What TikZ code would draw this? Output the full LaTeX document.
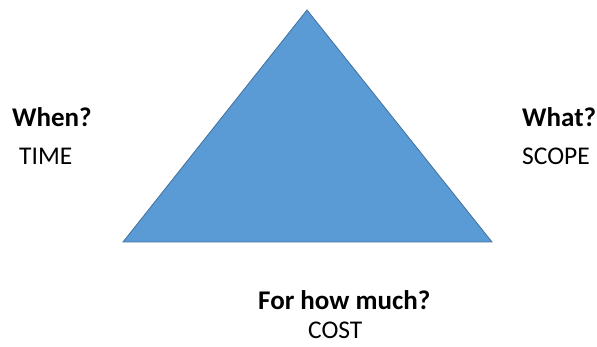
\documentclass[tikz,border=0pt]{standalone}
\usepackage{fontspec}
\setmainfont{Carlito}
\definecolor{tri}{HTML}{5B9BD5}
\definecolor{triedge}{HTML}{41719C}
\begin{document}
\begin{tikzpicture}[x=1pt,y=-1pt,
  q/.style={inner sep=0pt,anchor=base west,font=\fontsize{27}{32}\selectfont\bfseries},
  a/.style={inner sep=0pt,anchor=base west,font=\fontsize{25.5}{30}\selectfont}]
\useasboundingbox (0,0) rectangle (597,347);
\fill[tri,draw=triedge,line width=0.8pt] (307,10) coordinate (top) -- (492,242) coordinate (br) -- (123,242) coordinate (bl) -- cycle;
\node[q] (when) at (12,127) {When?};
\node[a] (time) at (19,165) {TIME};
\node[q] (what) at (522,127) {What?};
\node[a] (scope) at (522,165) {SCOPE};
\node[q] (howmuch) at (258,310) {For how much?};
\node[a] (cost) at (308,338) {COST};
\end{tikzpicture}
\end{document}
